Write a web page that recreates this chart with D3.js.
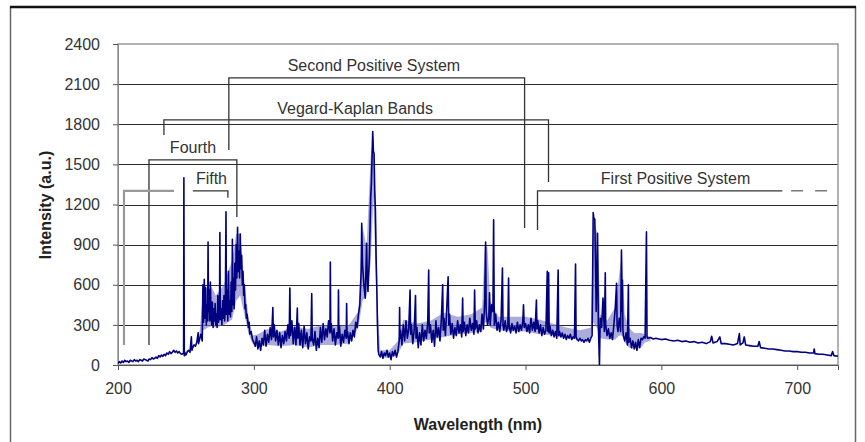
<!DOCTYPE html>
<html>
<head>
<meta charset="utf-8">
<script src="https://cdn.jsdelivr.net/npm/d3@7"></script>
<style>
  html, body { margin: 0; padding: 0; background: #fff; }
  svg { display: block; }
</style>
</head>
<body>
<div id="chart"></div>
<script>
// ── Ejes ──────────────────────────────────────────────────────────────────
const xTicks = [200, 300, 400, 500, 600, 700];
const yTicks = [0, 300, 600, 900, 1200, 1500, 1800, 2100, 2400];

// ── Espectro (longitud de onda nm, intensidad u.a.) ───────────────────────
const specUV = [
  [200,10],[201,25],[202,15],[203,30],[204,20],[205,35],[206,25],[207,30],[208,20],[209,35],
  [210,30],[211,25],[212,40],[213,30],[214,35],[215,25],[216,40],[217,35],[218,30],[219,45],
  [220,40],[221,35],[222,30],[223,45],[224,40],[225,55],[226,45],[227,50],[228,60],[229,50],
  [230,70],[231,60],[232,75],[233,65],[234,80],[235,70],[236,90],[237,80],[238,100],[239,85],
  [240,95],[241,110],[242,95],[243,105],[244,90],[245,100],[246,85],[247,80],[248.3,90],
  [248.5,1400],[248.8,70],[249.5,90],[250,75],[251,100],[252,110],[253,95],[254,210],[254.4,110],
  [255,130],[256,150],[257,140],[258,170],[259,240],[259.3,160],[260,190],[261,230],[262,180],
  [262.5,600],[263,320],[263.5,640],[264,350],[264.5,580],[265,300],[265.5,450],[266,330],
  [266.3,920],[266.6,400],[267,560],[267.5,330],[268,620],[268.5,380],[269,300],[269.5,470],
  [270,280],[270.5,420],[271,330],[271.5,460],[272,300],[272.5,380],[273,280],[273.5,520],
  [274,320],[274.7,360],[275,990],[275.3,340],[276,420],[276.5,300],[277,480],[277.5,350],
  [278,520],[278.5,330],[279,420],[279.5,1145],[279.8,380],[280.3,560],[280.8,330],[281.3,700],
  [281.8,380],[282.3,480],[282.8,360],[283.3,620],[283.8,400],[284.2,940],[284.6,450],[285,650],
  [285.5,420],[286,760],[286.5,560],[287,900],[287.5,650],[288,1030],[288.5,700],[289,850],
  [289.5,650],[290,980],[290.5,720],[291,820],[291.5,600],[292,700],[292.5,520],[293,600],
  [293.5,420],[294,450],[294.5,350],[295,380],[296,280],[296.5,320],[297,230],[298,250],
  [299,190],[300,170]
];

const specMid = [
  [301,140],[302,210],[303,120],[304,180],[305,110],[306,200],[307,150],[308,260],[309,140],
  [310,230],[311,170],[312,280],[313,190],[314,430],[314.4,210],[315,300],[316,180],[317,260],
  [318,150],[319,240],[320,130],[321,220],[322,160],[323,250],[324,180],[325,300],[326,200],
  [326.5,575],[327,220],[328,330],[329,160],[330,280],[331,150],[332,425],[332.4,200],[333,310],
  [334,150],[335,260],[336,130],[337,290],[338,160],[339,240],[340,120],[341,210],[342,180],
  [342.6,535],[343,200],[344,150],[345,250],[346,110],[347,200],[348,130],[349,280],[350,170],
  [351,310],[352,190],[353,270],[354,210],[355,330],[356,240],[356.3,770],[356.6,250],[357,310],
  [358,180],[359,270],[360,150],[361,240],[362,200],[362.3,560],[362.6,210],[363,290],[364,140],
  [365,230],[366,170],[367,260],[368,200],[368.3,460],[368.6,210],[369,250],[370,160],[371,240],
  [372,180],[373,260],[374,210],[375,320],[376,280],[377,380],[378,450],[379,700],[379.4,1060],
  [380,750],[381,600],[382,500],[382.5,700],[383,910],[383.5,650],[384,550],[385,800],
  [385.5,1000],[386,1250],[386.5,1350],[387,1550],[387.5,1745],[388,1600],[388.5,1580],
  [389,1300],[389.5,1150],[390,800],[390.5,585],[391,300],[391.5,110],[392,80],[393,60],
  [394,100],[395,50],[396,90],[397,70],[398,110],[399,60],[400,90],[401,40],[402,100],
  [403,70],[404,110],[405,60],[406,100],[407,180],[407.3,430],[407.6,200]
];

const specBlue = [
  [408,260],[409,150],[410,300],[411,180],[412,330],[413,200],[414,270],[415,560],[415.4,230],
  [416,300],[417,160],[418,260],[419,520],[419.4,200],[420,280],[421,130],[422,240],[423,150],
  [424,300],[425,180],[426,260],[427,200],[428,320],[428.7,710],[429.1,240],[430,300],[431,170],
  [432,260],[433,140],[434,330],[435,210],[436,280],[437,180],[438,340],[439,600],[439.4,260],
  [440,350],[441,220],[442,420],[443,660],[443.5,300],[444,380],[445,230],[446,310],[447,200],
  [448,280],[449,220],[450,330],[451,240],[452,300],[453,210],[453.7,500],[454.1,250],[455,320],
  [456,220],[457,300],[458,240],[459,350],[460,260],[461,310],[462,230],[462.5,560],[463,270],
  [464,330],[465,240],[466,300],[467,250],[468,380],[469,270],[470,500],[470.6,920],[471,400],
  [472,300],[473,360],[473.5,540],[474,300],[475,450],[476,400],[476.5,1085],[476.9,450],
  [477,300],[478,380],[479,260],[480,320],[481,250],[482,340],[483,725],[483.4,300],[484,260],
  [485,330],[486,250],[487,300],[487.5,650],[487.9,270],[488,300],[489,240],[490,310],[491,260],
  [492,290],[493,240],[494,320],[495,250],[496,300],[497,260],[498,330],[498.5,450],[499,280],
  [500,310]
];

const specGreen = [
  [501,250],[502,300],[503,240],[504,350],[505,260],[506,320],[507,250],[508,485],[508.4,270],
  [509,330],[510,240],[511,300],[512,220],[513,280],[514,230],[515,260],[516,700],[516.4,250],
  [517,690],[517.4,240],[518,290],[519,220],[520,260],[521,210],[522,250],[523,200],[524,710],
  [524.4,220],[525,250],[526,210],[527,240],[528,200],[529,230],[530,190],[531,220],[532,200],
  [533,230],[534,190],[535,210],[536,200],[536.8,755],[537.2,210],[538,190],[539,180],[540,200],
  [541,180],[542,190],[543,170],[544,190],[545,180],[546,200],[547,170],[548,200],[549,220],
  [549.8,1140],[550.2,1100],[551,1090],[552,400],[553,985],[553.6,300],[554.4,0],[554.8,250],
  [555,350],[556,280],[557,500],[558,250],[558.7,690],[559,300],[560,220],[561,270],[562,200],
  [563,240],[564,190],[565,300],[566,420],[567,610],[567.4,300],[568,250],[569,350],[570,250],
  [570.6,860],[571,400],[571.3,635],[571.7,260],[572,220],[573,180],[574,240],[575,150],
  [575.7,600],[576,170],[577,200],[578,130],[579,180],[580,120],[581,170],[582,110],[583,190],
  [584,130],[585,200],[586,190],[587,210],[588,200],[589,995],[589.4,210],[590,200],[592,205],
  [594,195]
];

const specRed = [
  [596,200],[598,195],[600,190],[603,195],[606,185],[609,180],[612,185],[615,175],[618,180],
  [621,170],[624,175],[627,165],[630,170],[633,160],[636,175],[637,215],[638,165],[641,175],
  [643,210],[644,160],[647,160],[650,155],[653,150],[656,160],[657.4,235],[658,150],[660,165],
  [661,210],[662,150],[665,145],[668,140],[671,140],[672,175],[673,130],[676,125],[679,120],
  [682,120],[685,115],[688,110],[691,105],[694,105],[697,100],[700,100],[703,95],[706,95],
  [709,90],[712,90],[712.5,120],[713,85],[716,80],[719,80],[722,75],[725,70],[726,100],
  [727,70],[730,65]
];

// Banda clara (zonas densas del espectro): [nm, min, max]
const lightBand = [
  [260,190,240],[263,260,600],[266,280,560],[269,290,580],[272,280,520],[275,290,560],
  [278,300,600],[281,320,700],[284,340,780],[287,480,980],[290,520,980],[293,380,620],
  [296,240,360],[299,160,220],[303,130,230],[310,150,270],[320,140,250],[330,150,290],
  [340,130,270],[350,150,300],[360,150,290],[370,160,300],[377,280,400],[380,480,1040],
  [383,520,880],[386,760,1560],[388,1250,1720],[390,560,1050],[391,150,450],[393,60,110],
  [400,50,110],[406,80,180],[410,160,340],[420,170,310],[430,190,330],[440,210,390],
  [450,230,360],[460,240,380],[468,250,430],[470,320,900],[472,320,880],[474,280,480],
  [480,260,360],[490,250,360],[500,250,360],[510,230,340],[520,220,310],[530,200,280],
  [540,190,260],[548,200,280],[550,320,1080],[553,270,980],[555,200,380],[560,190,330],
  [566,190,430],[569,220,680],[571,220,840],[573,170,380],[576,130,280],[580,120,240],
  [585,130,240],[588,170,230],[592,180,210]
];

// ── Sistemas de bandas (corchetes) ───────────────────────────────────────
const bracketSecond  = [[281.6,1608],[281.6,2147],[499.3,2147],[499.3,1025]];
const bracketVegard  = [[233.8,1720],[233.8,1833],[516.9,1833],[516.9,1369]];
const bracketFourth  = [[222.8,150],[222.8,1533],[287.5,1533],[287.5,1107]];
const bracketFifthA  = [[204.4,150],[204.4,1302],[241.2,1302]];
const bracketFifthB  = [[255.1,1302],[280.9,1302],[280.9,1250]];
const bracketFirst   = [[508.8,1010],[508.8,1302],[689,1302]];
const bracketFirstDash = [[695.5,1302],[722,1302]];

const bandLabels = [
  {text: "Second Positive System", nm: 388.4, val: 2198},
  {text: "Vegard-Kaplan Bands",    nm: 374.5, val: 1877},
  {text: "Fourth",                 nm: 255.2, val: 1582},
  {text: "Fifth",                  nm: 268.8, val: 1353},
  {text: "First Positive System",  nm: 610.4, val: 1353},
];

// ── Dibujo ────────────────────────────────────────────────────────────────
const width = 865, height = 442;
const M = {top: 44, right: 27, bottom: 77, left: 118};
const innerW = width - M.left - M.right;
const innerH = height - M.top - M.bottom;
const FONT = "'Liberation Sans', Arial, sans-serif";

const x = d3.scaleLinear().domain([200, 730]).range([0, innerW]);
const y = d3.scaleLinear().domain([0, 2400]).range([innerH, 0]);

const svg = d3.select("#chart").append("svg")
  .attr("width", width).attr("height", height)
  .style("font-family", FONT);

// Marco exterior
svg.append("rect").attr("x", 10.5).attr("y", 7).attr("width", 845).attr("height", 450)
  .attr("fill", "none").attr("stroke", "#666").attr("stroke-width", 1.5);
svg.append("line").attr("x1", 10).attr("x2", 856).attr("y1", 7).attr("y2", 7)
  .attr("stroke", "#111").attr("stroke-width", 2.5);

const g = svg.append("g").attr("transform", `translate(${M.left},${M.top})`);

svg.append("defs").append("clipPath").attr("id", "plot-clip")
  .append("rect").attr("width", innerW).attr("height", innerH);

// Rejilla horizontal
g.append("g").selectAll("line").data(yTicks.filter(t => t > 0 && t < 2400)).join("line")
  .attr("x1", 0).attr("x2", innerW)
  .attr("y1", d => Math.round(y(d)) + 0.5).attr("y2", d => Math.round(y(d)) + 0.5)
  .attr("stroke", "#2a2a2a").attr("stroke-width", 1);

// Borde del área de trazado
g.append("rect").attr("x", 0).attr("y", 0).attr("width", innerW).attr("height", innerH)
  .attr("fill", "none").attr("stroke", "#999").attr("stroke-width", 1.5);

// Ejes
g.append("g")
  .call(d3.axisLeft(y).tickValues(yTicks).tickFormat(d3.format("d")).tickSize(5).tickPadding(13))
  .call(ax => ax.select(".domain").attr("stroke", "#888"))
  .call(ax => ax.selectAll(".tick line").attr("stroke", "#555"))
  .call(ax => ax.selectAll("text").attr("font-size", 16).attr("fill", "#333")
    .attr("font-family", FONT));

g.append("g").attr("transform", `translate(0,${innerH})`)
  .call(d3.axisBottom(x).tickValues(xTicks).tickFormat(d3.format("d")).tickSize(5).tickPadding(13))
  .call(ax => ax.select(".domain").attr("stroke", "#555"))
  .call(ax => ax.selectAll(".tick line").attr("stroke", "#555"))
  .call(ax => ax.selectAll("text").attr("font-size", 16).attr("fill", "#333")
    .attr("font-family", FONT));

// Títulos de ejes
g.append("text").attr("transform", "rotate(-90)")
  .attr("x", -161).attr("y", -67)
  .attr("text-anchor", "middle").attr("font-size", 16).attr("font-weight", "bold")
  .attr("fill", "#222").text("Intensity (a.u.)");
g.append("text").attr("x", 360).attr("y", innerH + 65)
  .attr("text-anchor", "middle").attr("font-size", 16).attr("font-weight", "bold")
  .attr("fill", "#222").text("Wavelength (nm)");

// Espectro
const spec = [...specUV, ...specMid, ...specBlue, ...specGreen, ...specRed];
const plot = g.append("g").attr("clip-path", "url(#plot-clip)");

plot.append("path").datum(lightBand)
  .attr("d", d3.area().x(d => x(d[0])).y0(d => y(d[1])).y1(d => y(d[2])))
  .attr("fill", "#7f7fc8").attr("opacity", 0.65);

plot.append("path").datum(spec)
  .attr("d", d3.line().x(d => x(d[0])).y(d => y(d[1])))
  .attr("fill", "none").attr("stroke", "#000080").attr("stroke-width", 1.6)
  .attr("stroke-linejoin", "round");

// Corchetes
const bl = d3.line().x(d => x(d[0])).y(d => y(d[1]));
[bracketSecond, bracketVegard, bracketFourth, bracketFifthB, bracketFirst].forEach(b => {
  g.append("path").attr("d", bl(b)).attr("fill", "none")
    .attr("stroke", "#333").attr("stroke-width", 1.3);
});
g.append("path").attr("d", bl(bracketFifthA)).attr("fill", "none")
  .attr("stroke", "#999").attr("stroke-width", 2.2);
g.append("path").attr("d", bl(bracketFirstDash)).attr("fill", "none")
  .attr("stroke", "#777").attr("stroke-width", 1.5).attr("stroke-dasharray", "12,12");

g.selectAll("text.band").data(bandLabels).join("text")
  .attr("class", "band")
  .attr("x", d => x(d.nm)).attr("y", d => y(d.val))
  .attr("text-anchor", "middle").attr("font-size", 16).attr("fill", "#333")
  .text(d => d.text);
</script>
</body>
</html>
